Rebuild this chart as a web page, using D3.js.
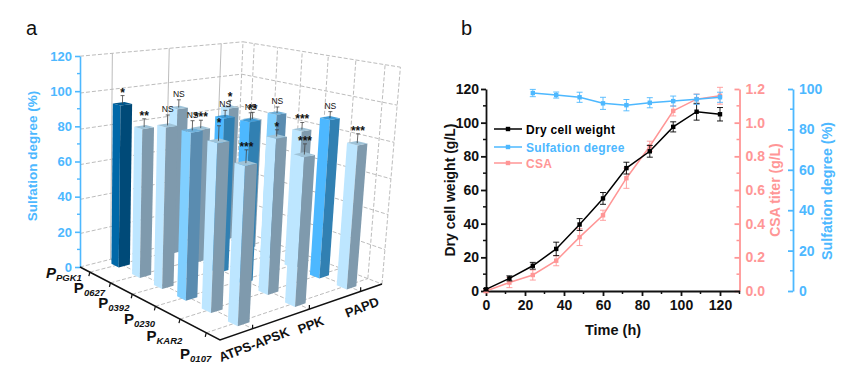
<!DOCTYPE html>
<html>
<head>
<meta charset="utf-8">
<script src="https://cdn.jsdelivr.net/npm/d3@7"></script>
<style>
	html, body { margin: 0; padding: 0; background: #fff; }
	svg text { font-family: "Liberation Sans", Arial, sans-serif; }
</style>
</head>
<body>
<div id="chart"></div>
<script>
// panel a
const promoters = ["PGK1", "0627", "0392", "0230", "KAR2", "0107"];
const genes = ["ATPS-APSK", "PPK", "PAPD"];
const atpsValues = [93.5, 84, 88.5, 89.5, 88, 81];
const ppkValues = [87, 78.5, 88.5, 90, 85, 79.5];
const papdValues = [83, 79, 86, 80, 90, 80];
const atpsErrors = [4.5, 4.5, 5.5, 5, 7.5, 6.5];
const ppkErrors = [4.5, 4.5, 3.5, 4, 3.5, 5.5];
const papdErrors = [4, 4, 3.5, 4, 3.5, 5];
const atpsSig = ["*", "**", "NS", "NS", "*", "***"];
const ppkSig = ["NS", "***", "NS", "NS", "*", "***"];
const papdSig = ["*", "**", "NS", "***", "NS", "***"];
const sulfTicks = [0, 20, 40, 60, 80, 100, 120];

// panel b
const hours = [0, 12, 24, 36, 48, 60, 72, 84, 96, 108, 120];
const dcw = [1, 7.5, 15, 25, 39.5, 55, 73, 83, 97.5, 106.5, 105];
const dcwErr = [0.5, 1.5, 2, 4, 3.5, 3.5, 3.5, 3.5, 3, 5, 4];
const csa = [0, 0.05, 0.095, 0.18, 0.32, 0.45, 0.67, 0.86, 1.07, 1.14, 1.16];
const csaErr = [0.01, 0.03, 0.03, 0.03, 0.05, 0.03, 0.06, 0.03, 0.03, 0.03, 0.05];
const sulfHours = [24, 36, 48, 60, 72, 84, 96, 108, 120];
const sulf = [98, 97, 95.9, 92.9, 92, 93.2, 94, 94.9, 95.9];
const sulfErr = [1.8, 1.5, 2.5, 3, 2.8, 2.5, 2.5, 2.5, 2.5];

const BLUE = "#4db8ff", PINK = "#ff9696", INK = "#111";

const svg = d3.select("#chart").append("svg")
	.attr("width", 865)
	.attr("height", 383);

drawBars();
drawLines();

function drawBars() {
	const g = svg.append("g");

	// floor corners of the box as seen in the picture
	const A = [80, 267], B = [220, 340], C = [382, 284], G = [235, 228];
	const dx1 = B[0] - C[0], dx2 = G[0] - C[0], sx = A[0] - B[0] + C[0] - G[0];
	const dy1 = B[1] - C[1], dy2 = G[1] - C[1], sy = A[1] - B[1] + C[1] - G[1];
	const den = dx1 * dy2 - dx2 * dy1;
	const pu = (sx * dy2 - dx2 * sy) / den;
	const pv = (dx1 * sy - sx * dy1) / den;
	const ax = B[0] * (1 + pu) - A[0], ay = B[1] * (1 + pu) - A[1];
	const bx = G[0] * (1 + pv) - A[0], by = G[1] * (1 + pv) - A[1];
	// verticals all run towards this point below the chart
	const vanish = [80, 3841], pw = -0.0557;

	const project = (u, v, w) => {
		const h = 1 + pu * u + pv * v + pw * w;
		return [
			(A[0] + ax * u + bx * v + pw * w * vanish[0]) / h,
			(A[1] + ay * u + by * v + pw * w * vanish[1]) / h
		];
	};

	const wScale = d3.scaleLinear().domain([0, 120]).range([0, 1]);
	const uScale = d3.scalePoint().domain(promoters).range([1 / 12, 11 / 12]);
	const vScale = d3.scalePoint().domain(genes).range([0.178, 0.85]);
	const line = d3.line();

	const walls = g.append("g")
		.attr("fill", "none")
		.attr("stroke", "#b4b4b4")
		.attr("stroke-width", 0.9);
	const addLine = (p, q, dash) => walls.append("path")
		.attr("d", line([p, q]))
		.attr("stroke-dasharray", dash ? "4,2" : null);

	sulfTicks.forEach(t => {
		const w = wScale(t);
		addLine(project(0, 0, w), project(0, 1, w), true);
		addLine(project(0, 1, w), project(1, 1, w), true);
	});
	genes.forEach(d => {
		addLine(project(0, vScale(d), 0), project(0, vScale(d), 1));
		addLine(project(0, vScale(d), 0), project(1, vScale(d), 0), true);
	});
	promoters.forEach(d => {
		addLine(project(uScale(d), 1, 0), project(uScale(d), 1, 1), true);
		addLine(project(uScale(d), 0, 0), project(uScale(d), 1, 0), true);
	});
	addLine(project(0, 1, 0), project(0, 1, 1), true);
	addLine(project(1, 1, 0), project(1, 1, 1), true);

	// tone of each bar, front face colours
	const tones = {
		dark: { left: "#0068a8", right: "#004a78", top: "#00578d" },
		light: { left: "#bde6ff", right: "#7f9aad", top: "#9fc3d8" },
		mid: { left: "#80cfff", right: "#5a8cb0", top: "#6fb0da" },
		blue: { left: "#4db8ff", right: "#3180b2", top: "#409cd8" }
	};
	const barTone = {
		"ATPS-APSK": ["dark", "light", "light", "mid", "light", "light"],
		"PPK": ["light", "light", "blue", "blue", "light", "light"],
		"PAPD": ["light", "light", "mid", "light", "blue", "light"]
	};
	const valueOf = { "ATPS-APSK": atpsValues, "PPK": ppkValues, "PAPD": papdValues };
	const errorOf = { "ATPS-APSK": atpsErrors, "PPK": ppkErrors, "PAPD": papdErrors };
	const sigOf = { "ATPS-APSK": atpsSig, "PPK": ppkSig, "PAPD": papdSig };

	// back rows first so the front bars cover them
	const halfU = 0.03, halfV = 0.033;
	const bars = g.append("g");
	const notes = g.append("g");
	promoters.forEach((p, i) => {
		genes.slice().reverse().forEach(gene => {
			const cu = uScale(p), cv = vScale(gene);
			const w = wScale(valueOf[gene][i]);
			const tone = tones[barTone[gene][i]];
			const u0 = cu - halfU, u1 = cu + halfU, v0 = cv - halfV, v1 = cv + halfV;
			const bar = bars.append("g");
			bar.append("path")
				.attr("d", line([project(u0, v0, 0), project(u1, v0, 0), project(u1, v0, w), project(u0, v0, w)]) + "Z")
				.attr("fill", tone.left);
			bar.append("path")
				.attr("d", line([project(u1, v0, 0), project(u1, v1, 0), project(u1, v1, w), project(u1, v0, w)]) + "Z")
				.attr("fill", tone.right);
			bar.append("path")
				.attr("d", line([project(u0, v0, w), project(u1, v0, w), project(u1, v1, w), project(u0, v1, w)]) + "Z")
				.attr("fill", tone.top);

			const base = project(cu, cv, w);
			const tip = project(cu, cv, wScale(valueOf[gene][i] + errorOf[gene][i]));
			notes.append("path")
				.attr("d", line([base, tip]) + `M${tip[0] - 2},${tip[1]}H${tip[0] + 2}`)
				.attr("stroke", "#444")
				.attr("fill", "none")
				.attr("stroke-width", 0.8);
			const sig = sigOf[gene][i];
			notes.append("text")
				.attr("x", tip[0])
				.attr("y", sig == "NS" ? tip[1] - 3 : tip[1] + 1)
				.attr("text-anchor", "middle")
				.attr("font-size", sig == "NS" ? 8.5 : 12)
				.attr("font-weight", sig == "NS" ? "normal" : "bold")
				.attr("fill", INK)
				.text(sig);
		});
	});

	// sulfation axis on the back left edge
	const yScale = d3.scaleLinear().domain([0, 120]).range([A[1], 56]);
	const yAxis = g.append("g")
		.attr("transform", `translate(${A[0]},0)`)
		.call(d3.axisLeft(yScale).tickValues(sulfTicks).tickSize(5).tickPadding(3).tickSizeOuter(0));
	yAxis.selectAll(".domain, .tick line").attr("stroke", BLUE).attr("stroke-width", 1.6);
	yAxis.selectAll(".tick text")
		.attr("fill", BLUE)
		.attr("font-size", 13)
		.attr("font-weight", "bold");
	yAxis.selectAll(".minor")
		.data([10, 30, 50, 70, 90, 110])
		.join("line")
		.attr("class", "minor")
		.attr("x2", -3)
		.attr("y1", d => yScale(d))
		.attr("y2", d => yScale(d))
		.attr("stroke", BLUE)
		.attr("stroke-width", 1.4);

	g.append("text")
		.attr("transform", `translate(37,156) rotate(-90)`)
		.attr("text-anchor", "middle")
		.attr("font-size", 13.5)
		.attr("font-weight", "bold")
		.attr("fill", BLUE)
		.text("Sulfation degree (%)");

	// two floor axes
	const axes = g.append("g").attr("fill", "none").attr("stroke", INK);
	axes.append("path").attr("d", line([A, B, C])).attr("stroke-width", 1.5);

	promoters.forEach((p, i) => {
		const t = project(uScale(p), 0, 0);
		axes.append("path")
			.attr("d", `M${t[0]},${t[1]}l-1,4`)
			.attr("stroke-width", 1.2);
		const label = g.append("text")
			.attr("x", t[0] - 8 + 2.6 * i)
			.attr("y", t[1] + 6 + 4 * i)
			.attr("text-anchor", "end")
			.attr("fill", INK)
			.attr("font-weight", "bold")
			.attr("font-size", 15);
		label.append("tspan")
			.attr("font-style", i == 0 ? "italic" : "normal")
			.text("P");
		label.append("tspan")
			.attr("font-size", 9.5)
			.attr("font-style", "italic")
			.attr("dy", 3)
			.text(p);
	});
	genes.forEach((d, i) => {
		const t = project(1, vScale(d), 0);
		axes.append("path")
			.attr("d", `M${t[0]},${t[1]}l0,-4`)
			.attr("stroke-width", 1.2);
		g.append("text")
			.attr("transform", `translate(${t[0] + 3},${t[1] + 20}) rotate(-21)`)
			.attr("text-anchor", "middle")
			.attr("fill", INK)
			.attr("font-weight", "bold")
			.attr("font-size", 13)
			.text(d);
	});

	g.append("text")
		.attr("x", 26)
		.attr("y", 35)
		.attr("font-size", 20)
		.attr("fill", INK)
		.text("a");
}

function drawLines() {
	const g = svg.append("g");
	const x0 = 486, x130 = 739.5, y0 = 291, yTop = 89;

	const xScale = d3.scaleLinear().domain([0, 130]).range([x0, x130]);
	const dcwScale = d3.scaleLinear().domain([0, 120]).range([y0, yTop]);
	const csaScale = d3.scaleLinear().domain([0, 1.2]).range([y0, yTop]);
	const sulfScale = d3.scaleLinear().domain([0, 100]).range([y0, yTop]);

	// axis with major labels and unlabelled minor ticks
	function styleAxis(sel, color) {
		sel.selectAll(".domain, .tick line").attr("stroke", color).attr("stroke-width", 1.8);
		sel.selectAll(".tick text")
			.attr("fill", color)
			.attr("font-size", 14)
			.attr("font-weight", "bold");
	}
	function yAxis(scale, left, color, ticks, minors, format, labelSide) {
		const a = g.append("g")
			.attr("transform", `translate(${left},0)`)
			.call(d3.axisLeft(scale).tickValues(ticks).tickSize(5).tickSizeOuter(0).tickFormat(format));
		styleAxis(a, color);
		a.selectAll(".tick text")
			.attr("x", labelSide == "right" ? 6 : -7)
			.attr("text-anchor", labelSide == "right" ? "start" : "end");
		a.selectAll(".minor")
			.data(minors)
			.join("line")
			.attr("class", "minor")
			.attr("x2", -3)
			.attr("y1", d => scale(d))
			.attr("y2", d => scale(d))
			.attr("stroke", color)
			.attr("stroke-width", 1.5);
	}

	yAxis(dcwScale, x0, INK, [0, 20, 40, 60, 80, 100, 120], [10, 30, 50, 70, 90, 110], d3.format("d"), "left");
	yAxis(csaScale, x130, PINK, [0, 0.2, 0.4, 0.6, 0.8, 1.0, 1.2], [0.1, 0.3, 0.5, 0.7, 0.9, 1.1], d3.format(".1f"), "right");
	yAxis(sulfScale, 793, BLUE, [0, 20, 40, 60, 80, 100], [10, 30, 50, 70, 90], d3.format("d"), "right");

	const xAxis = g.append("g")
		.attr("transform", `translate(0,${y0})`)
		.call(d3.axisBottom(xScale).tickValues([0, 20, 40, 60, 80, 100, 120]).tickSize(5).tickPadding(4).tickSizeOuter(0));
	styleAxis(xAxis, INK);
	xAxis.selectAll(".minor")
		.data([10, 30, 50, 70, 90, 110, 130])
		.join("line")
		.attr("class", "minor")
		.attr("x1", d => xScale(d))
		.attr("x2", d => xScale(d))
		.attr("y2", 3)
		.attr("stroke", INK)
		.attr("stroke-width", 1.5);

	function series(xs, ys, errs, scale, color) {
		const s = g.append("g");
		const path = d3.line().x((d, i) => xScale(xs[i])).y(d => scale(d));
		xs.forEach((t, i) => {
			const px = xScale(t), lo = scale(ys[i] - errs[i]), hi = scale(ys[i] + errs[i]);
			s.append("path")
				.attr("d", `M${px},${lo}V${hi}M${px - 3},${lo}h6M${px - 3},${hi}h6`)
				.attr("stroke", color)
				.attr("stroke-width", 0.9)
				.attr("fill", "none");
		});
		s.append("path")
			.attr("d", path(ys))
			.attr("fill", "none")
			.attr("stroke", color)
			.attr("stroke-width", 1.5);
		s.selectAll("rect")
			.data(ys)
			.join("rect")
			.attr("x", (d, i) => xScale(xs[i]) - 2.2)
			.attr("y", d => scale(d) - 2.2)
			.attr("width", 4.4)
			.attr("height", 4.4)
			.attr("fill", color);
	}
	series(hours, csa, csaErr, csaScale, PINK);
	series(hours, dcw, dcwErr, dcwScale, "#000");
	series(sulfHours, sulf, sulfErr, sulfScale, BLUE);

	// legend
	const legendNames = ["Dry cell weight", "Sulfation degree", "CSA"];
	const legendColors = ["#000", BLUE, PINK];
	const legendY = [129, 147, 163];
	legendNames.forEach((d, i) => {
		g.append("line")
			.attr("x1", 494).attr("x2", 522)
			.attr("y1", legendY[i]).attr("y2", legendY[i])
			.attr("stroke", legendColors[i])
			.attr("stroke-width", 1.5);
		g.append("rect")
			.attr("x", 505.8).attr("y", legendY[i] - 2.2)
			.attr("width", 4.4).attr("height", 4.4)
			.attr("fill", legendColors[i]);
		g.append("text")
			.attr("x", 526)
			.attr("y", legendY[i] + 4.5)
			.attr("font-size", 12)
			.attr("font-weight", "bold")
			.attr("letter-spacing", 0.3)
			.attr("fill", legendColors[i])
			.text(d);
	});

	// axis titles
	const titles = [
		["Dry cell weight (g/L)", 455, 190, INK, 14],
		["CSA titer (g/L)", 780, 190, PINK, 14],
		["Sulfation degree (%)", 832, 191, BLUE, 14.3]
	];
	titles.forEach(t => {
		g.append("text")
			.attr("transform", `translate(${t[1]},${t[2]}) rotate(-90)`)
			.attr("text-anchor", "middle")
			.attr("font-size", t[4])
			.attr("font-weight", "bold")
			.attr("fill", t[3])
			.text(t[0]);
	});
	g.append("text")
		.attr("x", 613)
		.attr("y", 335)
		.attr("text-anchor", "middle")
		.attr("font-size", 14.5)
		.attr("font-weight", "bold")
		.attr("fill", INK)
		.text("Time (h)");

	g.append("text")
		.attr("x", 461)
		.attr("y", 35)
		.attr("font-size", 20)
		.attr("fill", INK)
		.text("b");
}
</script>
</body>
</html>
